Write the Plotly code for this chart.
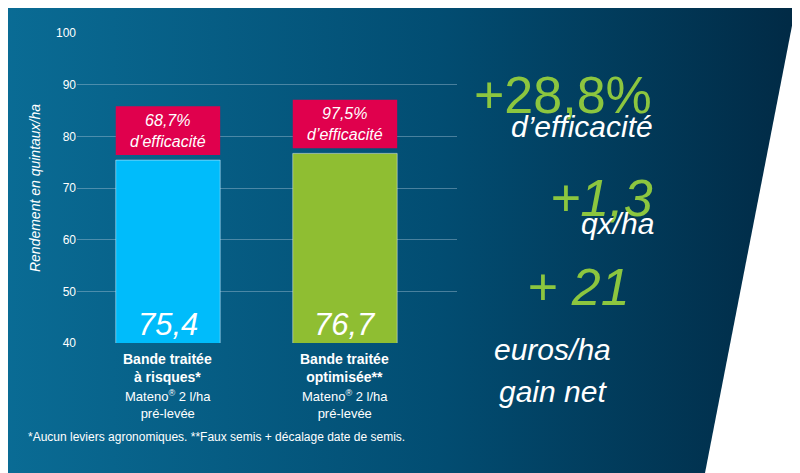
import plotly.graph_objects as go

categories = ["Bande traitée à risques", "Bande traitée optimisée"]
values = [75.4, 76.7]
value_labels = ["75,4", "76,7"]
efficacy = ["68,7%", "97,5%"]
bar_colors = ["#00bcfb", "#8fbe32"]
tick_bold = ["Bande traitée<br>à risques*", "Bande traitée<br>optimisée**"]
tick_sub = ["Mateno<sup>®</sup> 2 l/ha<br>pré-levée", "Mateno<sup>®</sup> 2 l/ha<br>pré-levée"]
y_ticks = [40, 50, 60, 70, 80, 90, 100]

O = 8  # page offset
L, T, PW, PH = 77 - O, 33 - O, 380, 310

def px(x):
    return (x - O - L) / PW

def py(y):
    return 1 - (y - O - T) / PH

svg = ("<svg xmlns='http://www.w3.org/2000/svg' width='800' height='473'>"
       "<defs><linearGradient id='g' x1='0' y1='0' x2='1' y2='0'>"
       "<stop offset='0' stop-color='%230a6c95'/><stop offset='0.55' stop-color='%23024d72'/>"
       "<stop offset='1' stop-color='%23012a45'/></linearGradient></defs>"
       "<rect width='800' height='473' fill='white'/>"
       "<polygon points='0,0 797,0 705,473 0,473' fill='url(%23g)'/></svg>")
src = "data:image/svg+xml;utf8," + svg

fig = go.Figure()
fig.add_trace(go.Bar(x=[0, 1], y=values, base=0, marker_color=bar_colors,
                     width=0.59, hoverinfo="skip"))

FONT = "Liberation Sans"
for i, v in enumerate(values):
    fig.add_shape(type="rect", xref="x", yref="y", x0=i - 0.295, x1=i + 0.295,
                  y0=v + 1.0, y1=v + 10.4, fillcolor="#e0004d", line_width=0)
    fig.add_annotation(x=i, y=v + 5.7, text="<i>%s<br>d’efficacité</i>" % efficacy[i],
                       showarrow=False, font=dict(family=FONT, size=16, color="white"))
    fig.add_annotation(x=i, y=43.5, text="<i>%s</i>" % value_labels[i], showarrow=False,
                       font=dict(family=FONT, size=31, color="white"))
    fig.add_annotation(x=i, y=0, xref="x", yref="paper", yanchor="top", yshift=-6,
                       text="<b>%s</b>" % tick_bold[i], showarrow=False,
                       font=dict(family=FONT, size=14, color="white"))
    fig.add_annotation(x=i, y=0, xref="x", yref="paper", yanchor="top", yshift=-43,
                       text=tick_sub[i], showarrow=False,
                       font=dict(family=FONT, size=13, color="white"))

def pa(x, y, text, size, color="white"):
    fig.add_annotation(x=px(x), y=py(y), xref="paper", yref="paper", text=text,
                       showarrow=False, font=dict(family=FONT, size=size, color=color))

green = "#8cc63f"
pa(654, 64, "+28,8%", 52, green)
pa(655, 108, "<i>d’efficacité</i>", 30)
pa(655, 198, "<i>+1,3</i>", 52, green)
pa(656, 242, "<i>qx/ha</i>", 30)
pa(632, 318, "<i>+ 21</i>", 52, green)
pa(613, 368, "<i>euros/ha</i>", 30)
pa(609, 410, "<i>gain net</i>", 30)
fig.add_annotation(x=px(26), y=py(446), xref="paper", yref="paper", xanchor="left",
                   text="*Aucun leviers agronomiques. **Faux semis + décalage date de semis.",
                   showarrow=False, font=dict(family=FONT, size=12, color="white"))

fig.update_layout(
    width=800, height=473, margin=dict(l=L, r=800 - L - PW, t=T, b=473 - T - PH),
    paper_bgcolor="white", plot_bgcolor="rgba(0,0,0,0)", showlegend=False,
    images=[dict(source=src, xref="paper", yref="paper", x=px(0), y=py(0),
                 sizex=800 / PW, sizey=473 / PH, xanchor="left", yanchor="top",
                 sizing="stretch", layer="below")],
    xaxis=dict(range=[-0.514, 1.633], showticklabels=False, showgrid=False, zeroline=False),
    yaxis=dict(range=[40, 100], tickvals=y_ticks, gridcolor="rgba(160,190,210,0.45)",
               zeroline=False, ticks="", tickfont=dict(family=FONT, size=12, color="white"),
               title=dict(text="<i>Rendement en quintaux/ha</i>", standoff=12,
                          font=dict(family=FONT, size=14, color="white"))),
)
fig.write_html("out.html")
